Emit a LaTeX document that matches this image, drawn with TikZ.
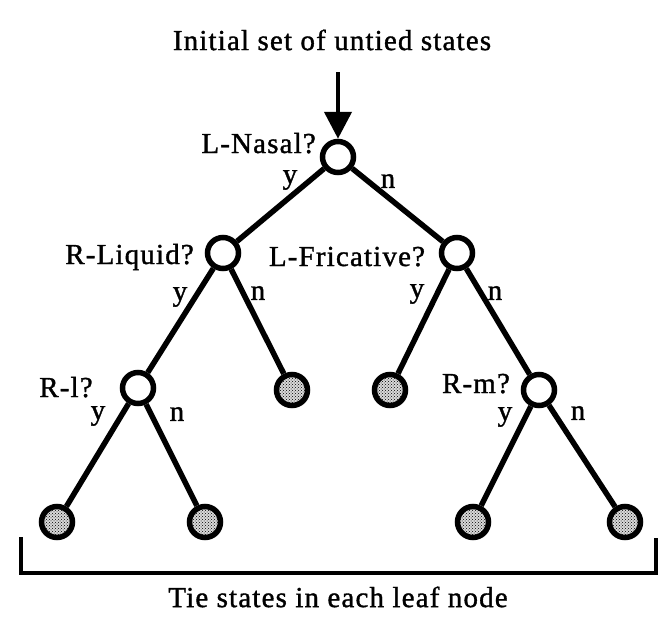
\documentclass[tikz,border=0pt]{standalone}
\usepackage{fontspec}
\setmainfont[LetterSpace=4,FakeBold=1.2]{Liberation Serif}
\usetikzlibrary{arrows.meta,patterns}

\begin{document}
\begin{tikzpicture}[x=1pt,y=-1pt, every node/.style={font=\fontsize{29}{32}\selectfont,inner sep=0pt}, q/.style={circle,draw,line width=5.5pt,minimum size=31pt,fill=white}, leaf/.style={circle,draw,line width=5.5pt,minimum size=31pt,preaction={fill=gray!30},pattern=crosshatch dots}, e/.style={line width=5.5pt}, a/.style={-{Triangle[length=27pt,width=27pt]},line width=4.5pt}, brk/.style={line width=4pt}]
\useasboundingbox (0,0) rectangle (672,632);
\node (title) at (332,40) {Initial set of untied states};
\node[q] (nasal) at (338,157) {};
\node[q] (liquid) at (223,253) {};
\node[q] (fric) at (457,253) {};
\node[q] (rl) at (138,388) {};
\node[leaf] (l1) at (292,390) {};
\node[leaf] (l2) at (390,390) {};
\node[q] (rm) at (539,390) {};
\node[leaf] (l3) at (57,522) {};
\node[leaf] (l4) at (205,522) {};
\node[leaf] (l5) at (473,522) {};
\node[leaf] (l6) at (625,522) {};
\node[anchor=base east] (tnasal) at (316,153) {L-Nasal?};
\node[anchor=base east] (tliquid) at (194,264) {R-Liquid?};
\node[anchor=base] (tfric) at (347,266) {L-Fricative?};
\node[anchor=base] (trl) at (66,397) {R-l?};
\node[anchor=base] (trm) at (476,393) {R-m?};
\node (ynasal) at (290,180) {y};\node (nnasal) at (388,181) {n};
\node (yliquid) at (180,297) {y};\node (nliquid) at (258,293) {n};
\node (yfric) at (417,294) {y};\node (nfric) at (495,293) {n};
\node (yrl) at (98,416) {y};\node (nrl) at (177,414) {n};
\node (yrm) at (505,417) {y};\node (nrm) at (578,413) {n};
\coordinate (src) at (338,72);
\draw[a] (src)--(nasal);
\draw[e] (nasal)--(liquid);\draw[e] (nasal)--(fric);
\draw[e] (liquid)--(rl);\draw[e] (liquid)--(l1);
\draw[e] (fric)--(l2);\draw[e] (fric)--(rm);
\draw[e] (rl)--(l3);\draw[e] (rl)--(l4);
\draw[e] (rm)--(l5);\draw[e] (rm)--(l6);
\coordinate (bl) at (21,537);\coordinate (bb) at (656,573);\coordinate (br) at (656,538);
\draw[brk] (bl) |- (bb) -- (br);
\node (tie) at (338,597) {Tie states in each leaf node};
\end{tikzpicture}
\end{document}
